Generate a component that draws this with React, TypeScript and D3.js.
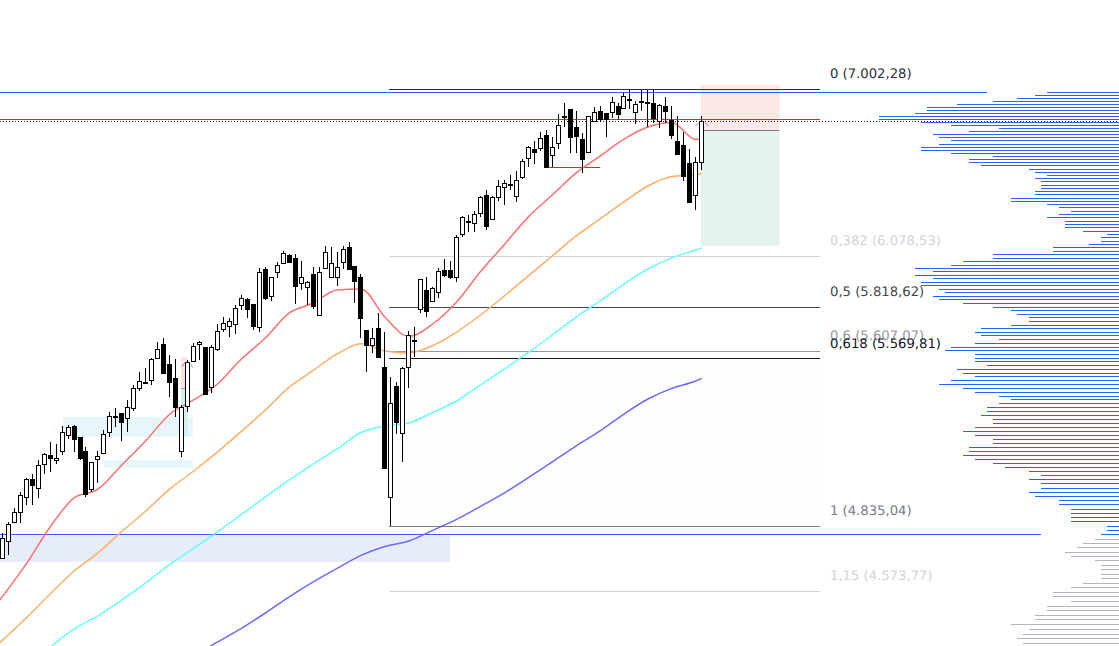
import * as React from 'react';
import * as d3 from 'd3';

const opens = [
  4706,4775,4853,4894,4957,5031,4992,5095,5136,5112,
  5154,5222,5263,5215,5153,4988,5117,5143,5235,5309,
  5320,5298,5343,5434,5463,5471,5575,5643,5548,5481,
  5152,5351,5560,5641,5627,5442,5617,5713,5728,5741,
  5831,5861,5836,5726,6012,5876,5996,6042,6084,6068,
  5941,5921,5986,5785,6017,5971,5971,6048,6125,6029,
  5971,5709,5636,5718,5532,4955,5445,5231,5532,5663,
  5811,5906,5854,5899,6007,6007,5971,6193,6263,6254,
  6304,6401,6272,6390,6445,6462,6399,6500,6605,6656,
  6661,6736,6626,6690,6846,6886,6785,6713,6639,6816,
  6874,6862,6868,6906,6892,6945,6868,6927,6921,6921,
  6819,6906,6825,6703,6680,6577,6405,6586,
];
const highs = [
  4807,4852,4910,4978,5036,5053,5114,5144,5192,5182,
  5263,5267,5267,5215,5171,5106,5154,5244,5328,5344,
  5322,5381,5450,5510,5528,5575,5654,5670,5590,5570,
  5358,5567,5646,5657,5627,5638,5739,5772,5767,5832,
  5882,5867,5836,6020,6022,5974,6048,6106,6089,6090,
  6054,5952,6022,6022,6132,6125,6102,6132,6151,6029,
  5986,5709,5718,5792,5699,5488,5462,5532,5705,5723,
  5961,5971,5921,6017,6065,6053,6189,6290,6295,6318,
  6398,6430,6398,6485,6485,6513,6535,6601,6675,6703,
  6756,6766,6724,6857,6921,6886,6874,6749,6849,6898,
  6906,6862,6956,6924,6983,7002,6936,7002,7002,7002,
  6917,6956,6906,6847,6756,6658,6611,6847,
];
const lows = [
  4706,4718,4849,4849,4922,4922,4953,5053,5063,5098,
  5136,5207,5149,5114,4957,4978,5016,5140,5216,5260,
  5198,5238,5332,5423,5454,5450,5570,5504,5396,5305,
  5126,5328,5558,5567,5408,5412,5611,5702,5678,5691,
  5808,5770,5710,5702,5857,5854,5969,6039,6049,5837,
  5907,5832,5814,5780,6012,5971,5929,6012,6015,5844,
  5673,5512,5601,5577,5078,4835,5226,5106,5437,5582,
  5792,5775,5849,5869,5971,5961,5949,6180,6207,6207,
  6286,6216,6272,6372,6349,6430,6367,6489,6558,6574,
  6646,6555,6555,6659,6785,6637,6634,6525,6639,6810,
  6814,6728,6833,6824,6892,6886,6799,6878,6785,6804,
  6779,6808,6716,6631,6479,6361,6322,6540,
];
const closes = [
  4786,4844,4892,4964,5031,5008,5091,5139,5124,5121,
  5235,5258,5207,5124,4968,5104,5130,5226,5307,5307,
  5280,5348,5434,5467,5461,5570,5617,5507,5462,5348,
  5348,5556,5635,5651,5408,5627,5704,5743,5752,5816,
  5866,5811,5731,5996,5869,5971,6034,6094,6051,5929,
  5971,5946,5828,5996,6102,6042,6025,6115,6015,5954,
  5770,5639,5670,5582,5078,5366,5283,5528,5687,5661,
  5961,5804,5916,6002,5981,5971,6177,6283,6261,6299,
  6390,6238,6390,6450,6467,6460,6483,6589,6667,6643,
  6718,6555,6667,6795,6844,6728,6733,6603,6849,6872,
  6831,6831,6930,6860,6966,6943,6915,6936,6930,6837,
  6909,6878,6739,6631,6509,6367,6583,6818,
];

// moving averages, read every 4th candle plus the chart edge and the last one
const maIndex = [-0.4,4,8,12,16,20,24,28,32,36,40,44,48,52,56,60,64,68,72,76,80,84,88,92,96,100,104,108,112,116,117];
const maRed = [4541,4682,4831,4952,4989,5092,5198,5316,5381,5454,5571,5671,5793,5842,5907,5912,5773,5679,5739,5847,6000,6140,6285,6403,6524,6618,6714,6783,6809,6712,6720];
const maOrange = [4380,4472,4564,4654,4726,4813,4897,4989,5066,5149,5239,5335,5440,5517,5595,5643,5609,5600,5635,5700,5783,5877,5978,6080,6184,6274,6365,6452,6504,6515,6521];
const maCyan = [null,null,4362,4431,4480,4541,4607,4680,4744,4811,4883,4956,5028,5096,5162,5234,5263,5277,5324,5376,5450,5524,5602,5686,5773,5852,5937,6013,6070,6111,6121];
const maBlue = [null,null,null,null,null,null,null,null,4330,4382,4433,4491,4553,4611,4664,4716,4752,4774,4817,4862,4916,4973,5038,5105,5175,5241,5317,5385,5434,5468,5480];

const fibPrices = [7002.28, 6078.53, 5818.62, 5607.07, 5569.81, 4835.04, 4573.77];
const fibLabels = ['0 (7.002,28)', '0,382 (6.078,53)', '0,5 (5.818,62)', '0,6 (5.607,07)', '0,618 (5.569,81)', '1 (4.835,04)', '1,15 (4.573,77)'];
const fibColors = ['#2a2e39', '#d1d4dc', '#434651', '#9598a1', '#131722', '#787b86', '#d1d4dc'];

// volume profile rows, top row down, equal price step
const profileBlue = [
  12,14,17,21,27,32,32,34,40,40,33,28,20,25,31,30,28,30,33,33,28,21,25,25,23,15,14,12,14,13,13,13,14,14,18,18,12,10,8,10,12,9,9,9,6,2,3,3,5,11,11,21,21,26,28,34,
  31,34,31,33,33,30,29,31,30,26,21,18,17,15,15,18,23,24,23,20,24,28,29,24,24,24,22,27,26,24,28,30,26,24,20,18,20,22,22,23,21,21,24,26,24,21,21,25,
  25,26,24,21,19,15,13,15,13,13,15,14,10,10,8,8,8,8,2,2,3,
];
const profileGrey = [4,6,7,9,8,4,3,3,3,3,6,8,11,11,8,12,12,14,14,18,15,16,17,16];
const profileTop = 6985.5;
const profileStep = 17.63;

const W = 1119;
const H = 646;
const fibLeft = 64.7;
const fibRight = 136.8;
const profileLeft = 880;

const App: React.FC = () => {
  const svgRef = React.useRef(null);

  React.useEffect(() => {
    const svg = d3.select(svgRef.current);
    svg.selectAll('*').remove();

    const x = d3.scaleLinear().domain([0, 117]).range([2.3, 701.7]);
    const y = d3.scaleLog().domain([4835.04, 7002.28]).range([526, 89.5]);
    const vol = d3.scaleLinear().domain([0, 40]).range([W, W - 240]);
    const px = (v: number) => Math.floor(v) + 0.5;

    const zone = (i0: number, i1: number, p0: number, p1: number, fill: string) =>
      svg.append('rect')
        .attr('x', x(i0)).attr('width', x(i1) - x(i0))
        .attr('y', y(p0)).attr('height', y(p1) - y(p0))
        .attr('fill', fill);

    const hline = (x0: number, x1: number, price: number, color: string, dash?: string) =>
      svg.append('line')
        .attr('x1', x0).attr('x2', x1)
        .attr('y1', px(y(price))).attr('y2', px(y(price)))
        .attr('stroke', color).attr('stroke-width', 1)
        .attr('stroke-dasharray', dash || null);

    // fib background, barely visible
    zone(fibLeft, fibRight, 5569.81, 4835.04, '#fdfefe');

    // support zones
    zone(-0.4, 74.9, 4796.5, 4690, '#e6ecf9');
    zone(10.15, 31.85, 5304, 5216, '#e6f6f9');
    zone(17, 31.85, 5114, 5080, '#e6f6f9');

    // the small position tool
    zone(29.9, 31, 5582, 5434, '#fbe3e4');
    zone(29.9, 31, 5434, 5216, '#d5f0ed');
    hline(x(29.9), x(31), 5434, '#9598a1');

    // the big position tool
    zone(116.85, 130, 7029, 6763, '#fde8e8');
    zone(116.85, 130, 6763, 6133, '#e4f3ef');
    hline(x(117.3), x(130), 6763, '#787b86');

    // fib levels
    fibPrices.forEach((p, i) => {
      // the 0,618 line sits a pixel higher than its label price
      const lineP = i === 4 ? 5575 : p;
      hline(x(fibLeft), x(fibRight), lineP, fibColors[i]);
      svg.append('text')
        .attr('x', 830).attr('y', y(p) - 11.5)
        .attr('font-family', '"DejaVu Sans"').attr('font-size', 13.2)
        .attr('text-rendering', 'geometricPrecision')
        .attr('fill', fibColors[i])
        .text(fibLabels[i]);
    });

    // volume profile
    const rows = [...profileBlue, ...profileGrey];
    svg.append('g').selectAll('line').data(rows).enter().append('line')
      .attr('x1', (d) => vol(d)).attr('x2', W)
      .attr('y1', (_, i) => px(y(profileTop - i * profileStep)))
      .attr('y2', (_, i) => px(y(profileTop - i * profileStep)))
      .attr('stroke', (_, i) => (i < profileBlue.length ? '#2962ff' : '#b2b5be'))
      .attr('stroke-width', 1);

    // horizontal levels
    hline(0, 987, 6984.5, '#2962ff');
    hline(0, 1041, 4800.5, '#2962ff');
    hline(0, x(fibRight), 6826, '#d9283a');
    hline(profileLeft, W, 6826, '#d9283a');
    hline(0, W, 6815, '#131722', '1 2');
    hline(x(91), x(100), 6555, '#e5202e');

    // moving averages
    const maLine = d3.line<number | null>()
      .defined((d) => d !== null)
      .x((_, i) => x(maIndex[i]))
      .y((d) => y(d as number))
      .curve(d3.curveMonotoneX);
    [
      { values: maBlue, color: '#6a6aff' },
      { values: maCyan, color: '#66ffff' },
      { values: maOrange, color: '#ffae66' },
      { values: maRed, color: '#ff6f6f' },
    ].forEach((s) => {
      svg.append('path')
        .attr('d', maLine(s.values))
        .attr('fill', 'none')
        .attr('stroke', s.color)
        .attr('stroke-width', 1.5);
    });

    // candles
    const candles = svg.append('g').attr('shape-rendering', 'crispEdges');
    opens.forEach((o, i) => {
      const c = closes[i];
      const cx = px(x(i));
      const top = Math.round(y(Math.max(o, c))) + 0.5;
      const bottom = Math.max(Math.round(y(Math.min(o, c))) + 0.5, top + 1);
      candles.append('line')
        .attr('x1', cx).attr('x2', cx)
        .attr('y1', y(highs[i])).attr('y2', y(lows[i]))
        .attr('stroke', '#000').attr('stroke-width', 1);
      candles.append('rect')
        .attr('x', cx - 2).attr('width', 4)
        .attr('y', top).attr('height', bottom - top)
        .attr('fill', c >= o ? '#fff' : '#000')
        .attr('stroke', '#000').attr('stroke-width', 1);
    });

    // little arrow marks on the position tools
    const marks = [
      [[695.5, 126], [699, 122.5]], [[705, 122.5], [708.5, 126]],
      [[181.7, 366.7], [185, 362.7]], [[190, 364.3], [193.3, 367.7]],
    ];
    marks.forEach((m) => {
      svg.append('path')
        .attr('d', d3.line()(m as [number, number][]))
        .attr('stroke', '#8a8d96').attr('stroke-width', 1).attr('fill', 'none');
    });
  }, []);

  return <svg ref={svgRef} width={W} height={H} style={{ position: 'absolute', left: 0, top: 0, background: '#fff' }}></svg>;
};

export default App;
